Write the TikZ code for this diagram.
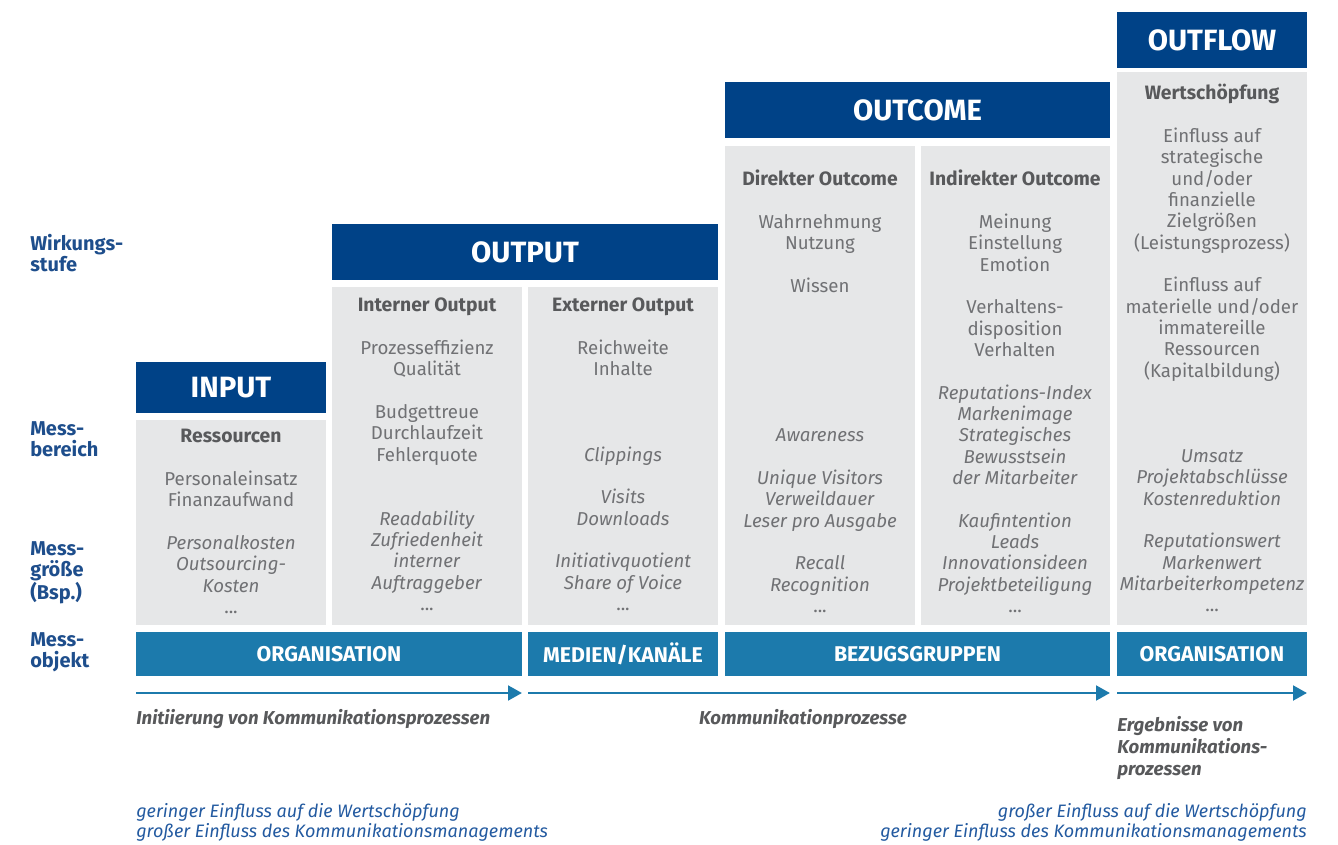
\documentclass[tikz,border=0pt]{standalone}
\usepackage{fontspec}
\setmainfont{Fira Sans}
\usetikzlibrary{arrows.meta}

\definecolor{headblue}{RGB}{0,66,135}
\definecolor{barblue}{RGB}{28,122,172}
\definecolor{panelgrey}{RGB}{230,231,232}
\definecolor{txtgrey}{RGB}{112,113,116}
\definecolor{hgrey}{RGB}{88,89,91}
\definecolor{lblblue}{RGB}{30,78,140}
\definecolor{noteblue}{RGB}{35,90,160}

\newcommand\colhd[1]{{\color{hgrey}\fontsize{14.5}{16}\selectfont\bfseries #1}}

\begin{document}
\begin{tikzpicture}[x=0.75pt,y=-0.75pt,
  sz/.style 2 args={minimum width=#1*0.75pt,minimum height=#2*0.75pt,anchor=north west,inner sep=0pt,outer sep=0pt},
  head/.style={fill=headblue,text=white,font=\fontsize{22}{24}\selectfont\bfseries},
  panel/.style={fill=panelgrey},
  bar/.style={fill=barblue,text=white,font=\fontsize{16}{18}\selectfont\bfseries},
  col/.style={anchor=north,align=center,inner sep=0pt,text=txtgrey,font=\fontsize{14}{16}\selectfont},
  side/.style={anchor=north west,align=left,inner sep=0pt,text=lblblue,font=\fontsize{15}{15.75}\selectfont\bfseries},
  flowlbl/.style={inner sep=0pt,text=hgrey,font=\fontsize{14}{16.5}\selectfont\bfseries\itshape},
  note/.style={inner sep=0pt,text=noteblue,font=\fontsize{13.5}{15}\selectfont\itshape},
  flow/.style={draw=barblue,line width=2.2pt,-{Triangle[length=10.5pt,width=11pt]}}]

\useasboundingbox (0,0) rectangle (1338,845);

% left labels
\node[side] (lwirk) at (30,234) {Wirkungs-\\stufe};
\node[side] (lbereich) at (30,421) {Mess-\\bereich};
\node[side] (lgroesse) at (30,541) {Mess-\\größe\\(Bsp.)};
\node[side] (lobjekt) at (30,632) {Mess-\\objekt};

% headers
\node[head,sz={190}{51}] (hin) at (136,362) {INPUT};
\node[head,sz={386}{56}] (hout) at (332,224) {OUTPUT};
\node[head,sz={385}{56}] (hcome) at (725,82) {OUTCOME};
\node[head,sz={190}{56}] (hflow) at (1117,12) {OUTFLOW};

% grey panels
\node[panel,sz={190}{205}] (pin) at (136,420) {};
\node[panel,sz={190}{338}] (pintern) at (332,287) {};
\node[panel,sz={190}{338}] (pextern) at (528,287) {};
\node[panel,sz={190}{479}] (pdirekt) at (725,146) {};
\node[panel,sz={189}{479}] (pindirekt) at (921,146) {};
\node[panel,sz={190}{553}] (pflow) at (1117,72) {};

% column texts
\node[col] (tin) at (231,429) {\colhd{Ressourcen}\\ ~\\ Personaleinsatz\\ Finanzaufwand\\ ~\\
  \textit{Personalkosten}\\ \textit{Outsourcing-}\\ \textit{Kosten}\\ ...};
\node[col] (tintern) at (427,298) {\colhd{Interner Output}\\ ~\\ Prozesseffizienz\\ Qualität\\ ~\\
  Budgettreue\\ Durchlaufzeit\\ Fehlerquote\\ ~\\ ~\\
  \textit{Readability}\\ \textit{Zufriedenheit}\\ \textit{interner}\\ \textit{Auftraggeber}\\ ...};
\node[col] (textern) at (623,298) {\colhd{Externer Output}\\ ~\\ Reichweite\\ Inhalte\\ ~\\ ~\\ ~\\
  \textit{Clippings}\\ ~\\ \textit{Visits}\\ \textit{Downloads}\\ ~\\
  \textit{Initiativquotient}\\ \textit{Share of Voice}\\ ...};
\node[col] (tdirekt) at (820,170) {\colhd{Direkter Outcome}\\ ~\\ Wahrnehmung\\ Nutzung\\ ~\\ Wissen\\
  ~\\ ~\\ ~\\ ~\\ ~\\ ~\\
  \textit{Awareness}\\ ~\\ \textit{Unique Visitors}\\ \textit{Verweildauer}\\ \textit{Leser pro Ausgabe}\\ ~\\
  \textit{Recall}\\ \textit{Recognition}\\ ...};
\node[col] (tindirekt) at (1015,170) {\colhd{Indirekter Outcome}\\ ~\\ Meinung\\ Einstellung\\ Emotion\\ ~\\
  Verhaltens-\\ disposition\\ Verhalten\\ ~\\
  \textit{Reputations-Index}\\ \textit{Markenimage}\\ \textit{Strategisches}\\ \textit{Bewusstsein}\\
  \textit{der Mitarbeiter}\\ ~\\
  \textit{Kaufintention}\\ \textit{Leads}\\ \textit{Innovationsideen}\\ \textit{Projektbeteiligung}\\ ...};
\node[col] (tflow) at (1212,84) {\colhd{Wertschöpfung}\\ ~\\ Einfluss auf\\ strategische\\ und/oder\\
  finanzielle\\ Zielgrößen\\ (Leistungsprozess)\\ ~\\ Einfluss auf\\ materielle und/oder\\
  immatereille\\ Ressourcen\\ (Kapitalbildung)\\ ~\\ ~\\ ~\\
  \textit{Umsatz}\\ \textit{Projektabschlüsse}\\ \textit{Kostenreduktion}\\ ~\\
  \textit{Reputationswert}\\ \textit{Markenwert}\\ \textit{Mitarbeiterkompetenz}\\ ...};

% measuring objects
\node[bar,sz={386}{44}] (orgA) at (136,632) {ORGANISATION};
\node[bar,sz={190}{44}] (medien) at (528,632) {MEDIEN/KANÄLE};
\node[bar,sz={385}{44}] (bezug) at (725,632) {BEZUGSGRUPPEN};
\node[bar,sz={190}{44}] (orgB) at (1117,632) {ORGANISATION};

% process arrows
\coordinate (f1a) at ([yshift=-12.75pt]orgA.south west);
\coordinate (f1b) at ([yshift=-12.75pt]orgA.south east);
\coordinate (f2a) at ([yshift=-12.75pt]medien.south west);
\coordinate (f2b) at ([yshift=-12.75pt]bezug.south east);
\coordinate (f3a) at ([yshift=-12.75pt]orgB.south west);
\coordinate (f3b) at ([yshift=-12.75pt]orgB.south east);
\draw[flow] (f1a) -- (f1b);
\draw[flow] (f2a) -- (f2b);
\draw[flow] (f3a) -- (f3b);

\node[flowlbl,anchor=west] (linit) at (136,719) {Initiierung von Kommunikationsprozessen};
\node[flowlbl] (lkomm) at (803,719) {Kommunikationprozesse};
\node[flowlbl,anchor=north west,align=left] (lerg) at (1117,716) {Ergebnisse von\\Kommunikations-\\prozessen};

% notes
\node[note,anchor=north west,align=left] (nleft) at (136,803) {geringer Einfluss auf die Wertschöpfung\\großer Einfluss des Kommunikationsmanagements};
\node[note,anchor=north east,align=right] (nright) at (1307,803) {großer Einfluss auf die Wertschöpfung\\geringer Einfluss des Kommunikationsmanagements};

\end{tikzpicture}
\end{document}
